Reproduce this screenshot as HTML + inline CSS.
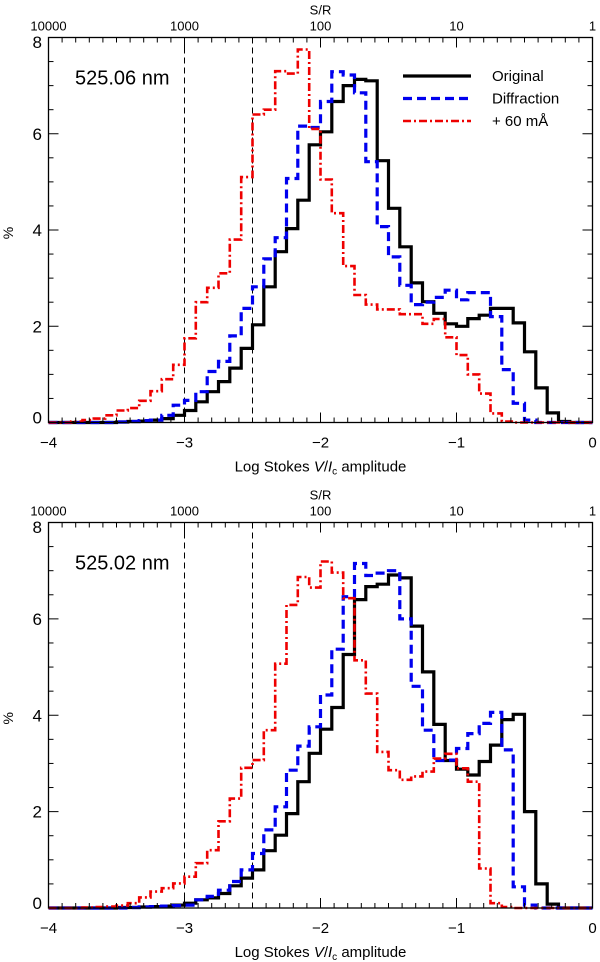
<!DOCTYPE html>
<html><head><meta charset="utf-8">
<style>
html,body{margin:0;padding:0;background:#fff;}
svg{display:block;font-family:"Liberation Sans",sans-serif;}
</style></head>
<body>
<svg id="chart" width="600" height="962" viewBox="0 0 600 962" xmlns="http://www.w3.org/2000/svg"></svg>
<script>
// ---- data (bins of width 1/12 in log amplitude, from -4 to 0) ----
const binStart = -4;
const binWidth = 1/12;
const xTicks = [-4, -3, -2, -1, 0];
const xTickLabels = ["\u22124", "\u22123", "\u22122", "\u22121", "0"];
const yTicks = [0, 2, 4, 6, 8];
const snrTickLabels = ["10000", "1000", "100", "10", "1"];
const refLines = [-3, -2.5];
const seriesNames = ["Original", "Diffraction", "+ 60 mÅ"];

const top_original = [0,0,0,0,0,0,0.01,0.02,0.03,0.05,0.08,0.15,0.25,0.43,0.64,0.85,1.13,1.54,2.03,2.82,3.55,4.03,4.62,5.77,6.04,6.67,7.0,7.13,7.1,5.44,4.45,3.65,2.9,2.51,2.27,2.05,2.0,2.16,2.23,2.37,2.37,2.07,1.47,0.72,0.2,0.02,0,0];
const top_diffraction = [0,0,0,0,0,0,0.01,0.02,0.04,0.05,0.15,0.36,0.46,0.64,1.06,1.27,1.8,2.37,2.82,3.4,3.84,5.07,6.16,6.13,6.67,7.29,7.22,6.85,5.42,4.07,3.44,2.85,2.45,2.5,2.6,2.75,2.55,2.7,2.7,2.2,1.1,0.4,0.05,0,0,0,0,0];
const top_shifted = [0,0,0.02,0.05,0.08,0.15,0.25,0.3,0.45,0.65,0.9,1.2,1.75,2.5,2.8,3.1,3.8,5.1,6.4,6.5,7.3,7.25,7.75,6.1,5.05,4.35,3.25,2.65,2.45,2.35,2.35,2.25,2.25,2.05,2.15,1.77,1.4,1.0,0.6,0.19,0.02,0,0,0,0,0,0,0];

const bot_original = [0,0,0,0,0,0,0.01,0.01,0.02,0.03,0.04,0.06,0.1,0.17,0.21,0.3,0.46,0.62,0.79,1.19,1.51,1.96,2.62,3.21,3.71,4.16,5.26,6.4,6.67,6.72,6.91,6.85,5.85,4.9,3.81,3.06,2.88,2.76,3.04,3.38,3.91,4.02,2.0,0.5,0.08,0,0,0];
const bot_diffraction = [0,0,0,0,0,0,0,0.01,0.02,0.03,0.04,0.05,0.06,0.17,0.24,0.37,0.55,0.79,1.13,1.62,2.1,2.86,3.36,3.76,4.42,5.37,6.46,7.15,6.9,6.95,7.0,6.0,4.6,3.69,3.06,3.07,3.31,3.62,3.83,4.06,3.28,0.44,0.06,0,0,0,0,0];
const bot_shifted = [0,0,0,0.01,0.02,0.03,0.05,0.1,0.22,0.34,0.41,0.51,0.65,0.93,1.2,1.8,2.27,2.91,3.07,3.69,5.07,6.29,6.87,6.65,7.19,6.96,6.43,5.14,4.45,3.24,2.86,2.66,2.73,2.83,3.1,3.2,2.9,2.62,0.82,0.1,0.02,0,0,0,0,0,0,0];

const NS = "http://www.w3.org/2000/svg";
const svg = document.getElementById("chart");
function mk(tag, attrs, parent){
  const e = document.createElementNS(NS, tag);
  for (const k in attrs) e.setAttribute(k, attrs[k]);
  (parent||svg).appendChild(e);
  return e;
}
const X0 = 48.5, X1 = 592.5;

function panel(id, top, bottom, label, data){
  const g = mk("g", {});
  
  
  const xs = v => X0 + (v + 4) / 4 * (X1 - X0);
  const ys = v => bottom - v / 8 * (bottom - top);

  // reference dashed lines
  refLines.forEach((r, i) => {
    const l = mk("line", {x1: xs(r), x2: xs(r), y1: top, y2: bottom, stroke: "#000", "stroke-width": 1, "stroke-dasharray": "6,4"}, g);
    
    
  });

  // series
  const styles = [
    {color: "#000", w: 3.2, dash: "none", name: "series-original"},
    {color: "#0000ee", w: 3.2, dash: "9,5", name: "series-diffraction"},
    {color: "#ee0000", w: 2.6, dash: "8,3,2,3", name: "series-plus-60-ma"}
  ];
  data.forEach((d, s) => {
    let p = "M" + xs(binStart).toFixed(1) + "," + ys(d[0]).toFixed(1);
    for (let j = 0; j < d.length; j++){
      p += " H" + xs(binStart + (j + 1) * binWidth).toFixed(1);
      if (j + 1 < d.length) p += " V" + ys(d[j + 1]).toFixed(1);
    }
    const path = mk("path", {d: p, fill: "none", stroke: styles[s].color, "stroke-width": styles[s].w, "stroke-dasharray": styles[s].dash, "stroke-linejoin": "miter"}, g);
    
    
  });

  // frame
  const fr = mk("rect", {x: X0, y: top, width: X1 - X0, height: bottom - top, fill: "none", stroke: "#000", "stroke-width": 1.3}, g);
  
  

  // x ticks (bottom and top)
  for (let i = 0; i <= 40; i++){
    const v = -4 + i * 0.1;
    const len = (i % 10 === 0) ? 10 : 5;
    mk("line", {x1: xs(v), x2: xs(v), y1: bottom, y2: bottom - len, stroke: "#000", "stroke-width": 1}, g);
    mk("line", {x1: xs(v), x2: xs(v), y1: top, y2: top + len, stroke: "#000", "stroke-width": 1}, g);
  }
  // y ticks
  for (let i = 0; i <= 16; i++){
    const v = i * 0.5;
    const len = (i % 4 === 0) ? 10 : 5;
    mk("line", {x1: X0, x2: X0 + len, y1: ys(v), y2: ys(v), stroke: "#000", "stroke-width": 1}, g);
    mk("line", {x1: X1, x2: X1 - len, y1: ys(v), y2: ys(v), stroke: "#000", "stroke-width": 1}, g);
  }
  // x tick labels
  xTicks.forEach((v, i) => {
    const t = mk("text", {x: xs(v), y: bottom + 25, "font-size": 15, "text-anchor": "middle"}, g);
    t.textContent = xTickLabels[i];
    
    
    const s = mk("text", {x: xs(v), y: top - 7, "font-size": 13, "text-anchor": "middle"}, g);
    s.textContent = snrTickLabels[i];
    
    
  });
  // y tick labels
  yTicks.forEach((v, i) => {
    let cy = ys(v);
    if (i === 0) cy -= 5;
    if (i === yTicks.length - 1) cy += 4.5;
    const t = mk("text", {x: 42, y: cy + 6, "font-size": 17, "text-anchor": "end"}, g);
    t.textContent = v;
    
    
  });
  // axis titles
  const st = mk("text", {x: xs(-2), y: top - 23, "font-size": 13, "text-anchor": "middle"}, g);
  st.textContent = "S/R";
  
  

  const xt = mk("text", {x: xs(-2), y: bottom + 49, "font-size": 15, "text-anchor": "middle"}, g);
  xt.innerHTML = 'Log Stokes <tspan font-style="italic">V</tspan>/<tspan font-style="italic">I</tspan><tspan font-size="10" dy="3">c</tspan><tspan dy="-3"> amplitude</tspan>';
  
  

  const yc = (top + bottom) / 2 + 3;
  const yt = mk("text", {x: 13, y: yc, "font-size": 14, "text-anchor": "middle", transform: "rotate(-90 13 " + yc + ")"}, g);
  yt.textContent = "%";
  
  

  const pl = mk("text", {x: 75, y: top + 47, "font-size": 20, "xml:space": "preserve"}, g);
  pl.textContent = label;
  
  
}

panel("panel-525-06", 37.5, 422.5, "525.06  nm", [top_original, top_diffraction, top_shifted]);
panel("panel-525-02", 522.5, 908, "525.02  nm", [bot_original, bot_diffraction, bot_shifted]);

// legend (top panel)
const leg = mk("g", {});


const legStyles = [["#000", "none", 3.2], ["#0000ee", "9,5", 3.2], ["#ee0000", "8,3,2,3", 2.6]];
seriesNames.forEach((n, i) => {
  const y = 76 + i * 22.5;
  const l = mk("line", {x1: 403, x2: 471, y1: y, y2: y, stroke: legStyles[i][0], "stroke-width": legStyles[i][2], "stroke-dasharray": legStyles[i][1]}, leg);
  
  
  const t = mk("text", {x: 492, y: y + 5, "font-size": 15}, leg);
  t.textContent = n;
  
  
});
</script>
</body></html>
